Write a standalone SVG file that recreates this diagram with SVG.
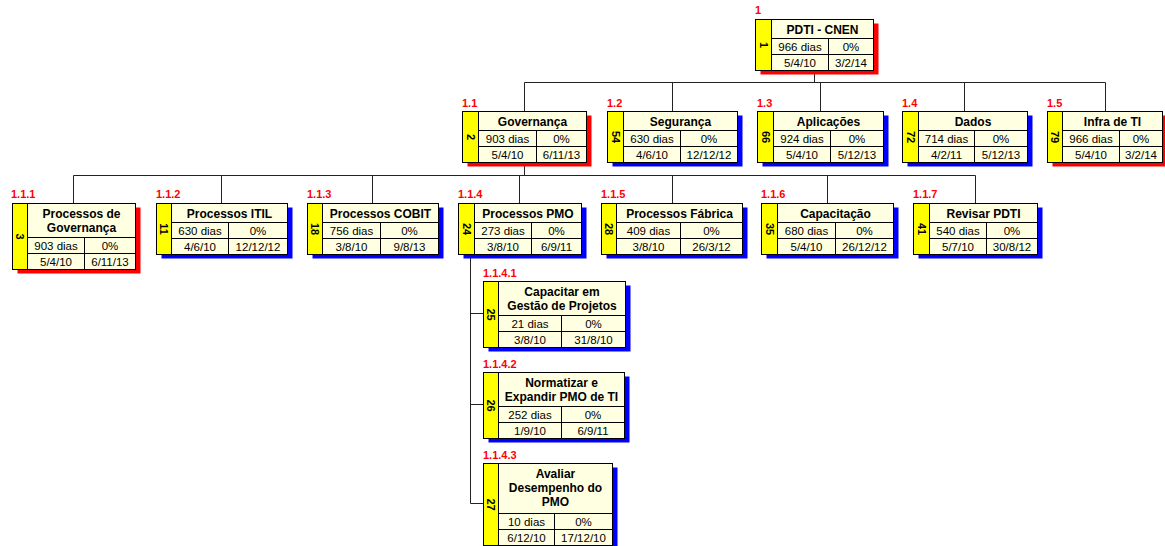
<svg xmlns="http://www.w3.org/2000/svg" width="1165" height="546" viewBox="0 0 1165 546">
<style>
.bg{fill:#fff}
.box{fill:#FFFFE1;stroke:#000;stroke-width:1}
.strip{fill:#FFFF00;stroke:#000;stroke-width:1}
.ln{stroke:#000;stroke-width:1;fill:none}
.shR{fill:#FF0000}
.shB{fill:#0000FF}
.con{stroke:#222;stroke-width:1;fill:none}
text{font-family:"Liberation Sans",Arial,sans-serif;fill:#000}
.t{font-size:12px;font-weight:bold;text-anchor:middle}
.d{font-size:11.5px;text-anchor:middle}
.lb{font-size:11px;font-weight:bold;fill:#FF0000}
.num{font-size:11px;font-weight:bold;text-anchor:middle;dominant-baseline:central}
</style>
<rect class="bg" x="0" y="0" width="1165" height="546"/>

<g id="connectors">
<path class="con" d="M814.5 70.5V82.5M524.5 82.5H1105.5M524.5 82.5V111.5M672.5 82.5V111.5M820.5 82.5V111.5M964.5 82.5V111.5M1105.5 82.5V111.5"/>
<path class="con" d="M524.5 162.5V175.5M73.5 175.5H975.5M73.5 175.5V203.5M221.5 175.5V203.5M372.5 175.5V203.5M519.5 175.5V203.5M672.5 175.5V203.5M827.5 175.5V203.5M975.5 175.5V203.5"/>
<path class="con" d="M470.5 254.5V503.5M470.5 313.5H483.5M470.5 404.5H483.5M470.5 503.5H483.5"/>
</g>

<g id="n1">
<text class="lb" x="755" y="14">1</text>
<rect class="shR" x="760.5" y="23.5" width="118" height="51"/>
<rect class="box" x="755.5" y="19.5" width="118" height="51"/>
<rect class="strip" x="755.5" y="19.5" width="16" height="51"/>
<path class="ln" d="M771.5 38.5H873.5M771.5 54.5H873.5M828.5 38.5V70.5"/>
<text class="num" transform="translate(763.5 45) rotate(90)">1</text>
<text class="t" x="822.5" y="33.5">PDTI - CNEN</text>
<text class="d" x="800" y="51">966 dias</text><text class="d" x="851" y="51">0%</text>
<text class="d" x="800" y="67">5/4/10</text><text class="d" x="851" y="67">3/2/14</text>
</g>

<g id="n1_1">
<text class="lb" x="462" y="107">1.1</text>
<rect class="shR" x="467.5" y="115.5" width="124" height="51"/>
<rect class="box" x="462.5" y="111.5" width="124" height="51"/>
<rect class="strip" x="462.5" y="111.5" width="16" height="51"/>
<path class="ln" d="M478.5 130.5H586.5M478.5 146.5H586.5M536.5 130.5V162.5"/>
<text class="num" transform="translate(470.5 137) rotate(90)">2</text>
<text class="t" x="532.5" y="125.5">Governança</text>
<text class="d" x="507.5" y="143">903 dias</text><text class="d" x="561.5" y="143">0%</text>
<text class="d" x="507.5" y="159">5/4/10</text><text class="d" x="561.5" y="159">6/11/13</text>
</g>

<g id="n1_2">
<text class="lb" x="607" y="107">1.2</text>
<rect class="shB" x="612.5" y="115.5" width="130" height="51"/>
<rect class="box" x="607.5" y="111.5" width="130" height="51"/>
<rect class="strip" x="607.5" y="111.5" width="16" height="51"/>
<path class="ln" d="M623.5 130.5H737.5M623.5 146.5H737.5M680.5 130.5V162.5"/>
<text class="num" transform="translate(615.5 137) rotate(90)">54</text>
<text class="t" x="680.5" y="125.5">Segurança</text>
<text class="d" x="652" y="143">630 dias</text><text class="d" x="709" y="143">0%</text>
<text class="d" x="652" y="159">4/6/10</text><text class="d" x="709" y="159">12/12/12</text>
</g>

<g id="n1_3">
<text class="lb" x="757" y="107">1.3</text>
<rect class="shB" x="762.5" y="115.5" width="126" height="51"/>
<rect class="box" x="757.5" y="111.5" width="126" height="51"/>
<rect class="strip" x="757.5" y="111.5" width="16" height="51"/>
<path class="ln" d="M773.5 130.5H883.5M773.5 146.5H883.5M830.5 130.5V162.5"/>
<text class="num" transform="translate(765.5 137) rotate(90)">66</text>
<text class="t" x="828.5" y="125.5">Aplicações</text>
<text class="d" x="802" y="143">924 dias</text><text class="d" x="857" y="143">0%</text>
<text class="d" x="802" y="159">5/4/10</text><text class="d" x="857" y="159">5/12/13</text>
</g>

<g id="n1_4">
<text class="lb" x="902" y="107">1.4</text>
<rect class="shB" x="907.5" y="115.5" width="125" height="51"/>
<rect class="box" x="902.5" y="111.5" width="125" height="51"/>
<rect class="strip" x="902.5" y="111.5" width="16" height="51"/>
<path class="ln" d="M918.5 130.5H1027.5M918.5 146.5H1027.5M974.5 130.5V162.5"/>
<text class="num" transform="translate(910.5 137) rotate(90)">72</text>
<text class="t" x="973" y="125.5">Dados</text>
<text class="d" x="946.5" y="143">714 dias</text><text class="d" x="1001" y="143">0%</text>
<text class="d" x="946.5" y="159">4/2/11</text><text class="d" x="1001" y="159">5/12/13</text>
</g>

<g id="n1_5">
<text class="lb" x="1047" y="107">1.5</text>
<rect class="shR" x="1052.5" y="115.5" width="115" height="51"/>
<rect class="box" x="1047.5" y="111.5" width="115" height="51"/>
<rect class="strip" x="1047.5" y="111.5" width="15" height="51"/>
<path class="ln" d="M1062.5 130.5H1162.5M1062.5 146.5H1162.5M1119.5 130.5V162.5"/>
<text class="num" transform="translate(1055 137) rotate(90)">79</text>
<text class="t" x="1112.5" y="125.5">Infra de TI</text>
<text class="d" x="1091" y="143">966 dias</text><text class="d" x="1141" y="143">0%</text>
<text class="d" x="1091" y="159">5/4/10</text><text class="d" x="1141" y="159">3/2/14</text>
</g>

<g id="n1_1_1">
<text class="lb" x="11" y="198">1.1.1</text>
<rect class="shR" x="17.5" y="207.5" width="123" height="66"/>
<rect class="box" x="12.5" y="203.5" width="123" height="66"/>
<rect class="strip" x="12.5" y="203.5" width="15" height="66"/>
<path class="ln" d="M27.5 237.5H135.5M27.5 253.5H135.5M84.5 237.5V269.5"/>
<text class="num" transform="translate(20 236.5) rotate(90)">3</text>
<text class="t" x="81.5" y="217.5">Processos de</text>
<text class="t" x="81.5" y="231.5">Governança</text>
<text class="d" x="56" y="250">903 dias</text><text class="d" x="110" y="250">0%</text>
<text class="d" x="56" y="266">5/4/10</text><text class="d" x="110" y="266">6/11/13</text>
</g>

<g id="n1_1_2">
<text class="lb" x="156" y="198">1.1.2</text>
<rect class="shB" x="161.5" y="207.5" width="131" height="51"/>
<rect class="box" x="156.5" y="203.5" width="131" height="51"/>
<rect class="strip" x="156.5" y="203.5" width="15" height="51"/>
<path class="ln" d="M171.5 222.5H287.5M171.5 238.5H287.5M228.5 222.5V254.5"/>
<text class="num" transform="translate(164 229) rotate(90)">11</text>
<text class="t" x="229.5" y="217.5">Processos ITIL</text>
<text class="d" x="200" y="235">630 dias</text><text class="d" x="258" y="235">0%</text>
<text class="d" x="200" y="251">4/6/10</text><text class="d" x="258" y="251">12/12/12</text>
</g>

<g id="n1_1_3">
<text class="lb" x="307" y="198">1.1.3</text>
<rect class="shB" x="312.5" y="207.5" width="131" height="51"/>
<rect class="box" x="307.5" y="203.5" width="131" height="51"/>
<rect class="strip" x="307.5" y="203.5" width="15" height="51"/>
<path class="ln" d="M322.5 222.5H438.5M322.5 238.5H438.5M380.5 222.5V254.5"/>
<text class="num" transform="translate(315 229) rotate(90)">18</text>
<text class="t" x="380.5" y="217.5">Processos COBIT</text>
<text class="d" x="351.5" y="235">756 dias</text><text class="d" x="409.5" y="235">0%</text>
<text class="d" x="351.5" y="251">3/8/10</text><text class="d" x="409.5" y="251">9/8/13</text>
</g>

<g id="n1_1_4">
<text class="lb" x="458" y="198">1.1.4</text>
<rect class="shB" x="463.5" y="207.5" width="123" height="51"/>
<rect class="box" x="458.5" y="203.5" width="123" height="51"/>
<rect class="strip" x="458.5" y="203.5" width="16" height="51"/>
<path class="ln" d="M474.5 222.5H581.5M474.5 238.5H581.5M531.5 222.5V254.5"/>
<text class="num" transform="translate(466.5 229) rotate(90)">24</text>
<text class="t" x="528" y="217.5">Processos PMO</text>
<text class="d" x="503" y="235">273 dias</text><text class="d" x="556.5" y="235">0%</text>
<text class="d" x="503" y="251">3/8/10</text><text class="d" x="556.5" y="251">6/9/11</text>
</g>

<g id="n1_1_5">
<text class="lb" x="601" y="198">1.1.5</text>
<rect class="shB" x="606.5" y="207.5" width="141" height="51"/>
<rect class="box" x="601.5" y="203.5" width="141" height="51"/>
<rect class="strip" x="601.5" y="203.5" width="15" height="51"/>
<path class="ln" d="M616.5 222.5H742.5M616.5 238.5H742.5M680.5 222.5V254.5"/>
<text class="num" transform="translate(609 229) rotate(90)">28</text>
<text class="t" x="679.5" y="217.5">Processos Fábrica</text>
<text class="d" x="648.5" y="235">409 dias</text><text class="d" x="711.5" y="235">0%</text>
<text class="d" x="648.5" y="251">3/8/10</text><text class="d" x="711.5" y="251">26/3/12</text>
</g>

<g id="n1_1_6">
<text class="lb" x="761" y="198">1.1.6</text>
<rect class="shB" x="766.5" y="207.5" width="132" height="51"/>
<rect class="box" x="761.5" y="203.5" width="132" height="51"/>
<rect class="strip" x="761.5" y="203.5" width="16" height="51"/>
<path class="ln" d="M777.5 222.5H893.5M777.5 238.5H893.5M835.5 222.5V254.5"/>
<text class="num" transform="translate(769.5 229) rotate(90)">35</text>
<text class="t" x="835.5" y="217.5">Capacitação</text>
<text class="d" x="806.5" y="235">680 dias</text><text class="d" x="864.5" y="235">0%</text>
<text class="d" x="806.5" y="251">5/4/10</text><text class="d" x="864.5" y="251">26/12/12</text>
</g>

<g id="n1_1_7">
<text class="lb" x="913" y="198">1.1.7</text>
<rect class="shB" x="918.5" y="207.5" width="124" height="51"/>
<rect class="box" x="913.5" y="203.5" width="124" height="51"/>
<rect class="strip" x="913.5" y="203.5" width="16" height="51"/>
<path class="ln" d="M929.5 222.5H1037.5M929.5 238.5H1037.5M986.5 222.5V254.5"/>
<text class="num" transform="translate(921.5 229) rotate(90)">41</text>
<text class="t" x="983.5" y="217.5">Revisar PDTI</text>
<text class="d" x="958" y="235">540 dias</text><text class="d" x="1012" y="235">0%</text>
<text class="d" x="958" y="251">5/7/10</text><text class="d" x="1012" y="251">30/8/12</text>
</g>

<g id="n1_1_4_1">
<text class="lb" x="483" y="277">1.1.4.1</text>
<rect class="shB" x="488.5" y="285.5" width="142" height="66"/>
<rect class="box" x="483.5" y="281.5" width="142" height="66"/>
<rect class="strip" x="483.5" y="281.5" width="15" height="66"/>
<path class="ln" d="M498.5 315.5H625.5M498.5 331.5H625.5M561.5 315.5V347.5"/>
<text class="num" transform="translate(491 314.5) rotate(90)">25</text>
<text class="t" x="562" y="295.5">Capacitar em</text>
<text class="t" x="562" y="309.5">Gestão de Projetos</text>
<text class="d" x="530" y="328">21 dias</text><text class="d" x="593.5" y="328">0%</text>
<text class="d" x="530" y="344">3/8/10</text><text class="d" x="593.5" y="344">31/8/10</text>
</g>

<g id="n1_1_4_2">
<text class="lb" x="483" y="368">1.1.4.2</text>
<rect class="shB" x="488.5" y="376.5" width="141" height="66"/>
<rect class="box" x="483.5" y="372.5" width="141" height="66"/>
<rect class="strip" x="483.5" y="372.5" width="15" height="66"/>
<path class="ln" d="M498.5 406.5H624.5M498.5 422.5H624.5M561.5 406.5V438.5"/>
<text class="num" transform="translate(491 405.5) rotate(90)">26</text>
<text class="t" x="561.5" y="386.5">Normatizar e</text>
<text class="t" x="561.5" y="400.5">Expandir PMO de TI</text>
<text class="d" x="530" y="419">252 dias</text><text class="d" x="593" y="419">0%</text>
<text class="d" x="530" y="435">1/9/10</text><text class="d" x="593" y="435">6/9/11</text>
</g>

<g id="n1_1_4_3">
<text class="lb" x="483" y="459">1.1.4.3</text>
<rect class="shB" x="488.5" y="467.5" width="129" height="82"/>
<rect class="box" x="483.5" y="463.5" width="129" height="82"/>
<rect class="strip" x="483.5" y="463.5" width="15" height="82"/>
<path class="ln" d="M498.5 513.5H612.5M498.5 529.5H612.5M554.5 513.5V545.5"/>
<text class="num" transform="translate(491 504.5) rotate(90)">27</text>
<text class="t" x="555.5" y="477.5">Avaliar</text>
<text class="t" x="555.5" y="491.5">Desempenho do</text>
<text class="t" x="555.5" y="505.5">PMO</text>
<text class="d" x="526.5" y="526">10 dias</text><text class="d" x="583.5" y="526">0%</text>
<text class="d" x="526.5" y="542">6/12/10</text><text class="d" x="583.5" y="542">17/12/10</text>
</g>
</svg>
